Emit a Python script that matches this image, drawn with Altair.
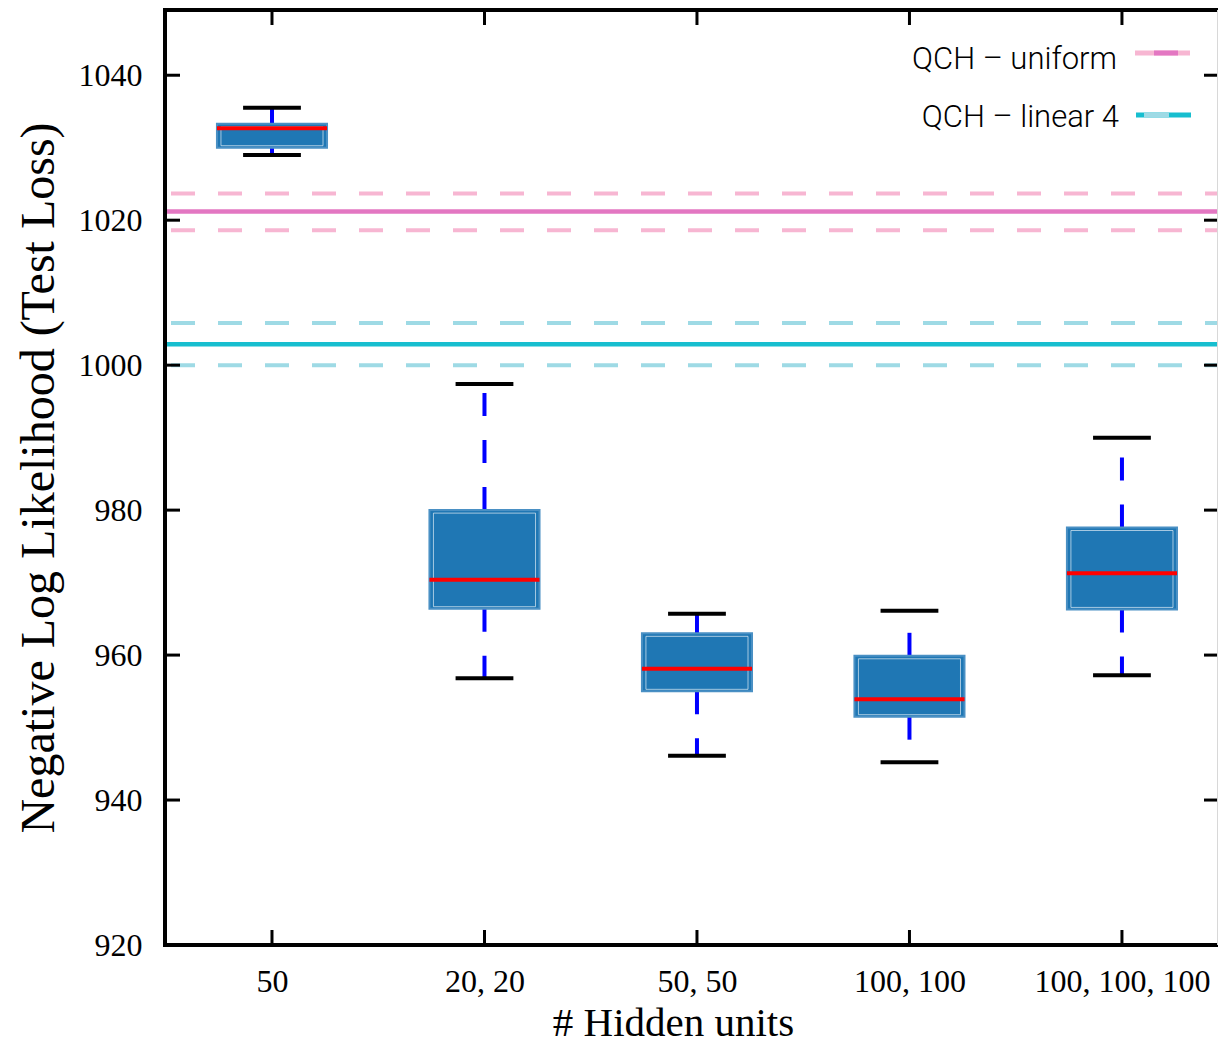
import json
import altair as alt
import pandas as pd

# ---------------- data ----------------
categories = ["50", "20, 20", "50, 50", "100, 100", "100, 100, 100"]
whisker_low = [1029.0, 956.8, 946.1, 945.2, 957.2]
q1 = [1030.0, 966.4, 955.0, 951.5, 966.3]
median = [1032.7, 970.4, 958.1, 953.9, 971.3]
q3 = [1033.3, 980.0, 963.0, 959.9, 977.6]
whisker_high = [1035.5, 997.4, 965.7, 966.1, 990.0]

ref_labels = ["QCH – uniform", "QCH – linear 4"]
ref_mean = [1021.2, 1002.9]
ref_upper = [1023.7, 1005.8]
ref_lower = [1018.6, 1000.0]
ref_solid_colors = ["#e377c2", "#17becf"]
ref_light_colors = ["#f7b6d2", "#9edae5"]

y_ticks = [920, 940, 960, 980, 1000, 1020, 1040]

# ---------------- layout ----------------
W, H = 1053, 935
BOX_HALF = 0.259
CAP_HALF = 0.136
SERIF = "Liberation Serif"

n = len(categories)
box_df = pd.DataFrame({
    "idx": list(range(n)), "cat": categories, "lo": whisker_low, "q1": q1,
    "med": median, "q3": q3, "hi": whisker_high,
})
ref_df = pd.DataFrame({"series": ref_labels, "mean": ref_mean,
                       "upper": ref_upper, "lower": ref_lower})
ytick_df = pd.DataFrame({"v": y_ticks})
xtick_df = pd.DataFrame({"idx": list(range(n))})
one_df = pd.DataFrame({"k": [0]})

xscale = alt.Scale(domain=[-0.5035, 4.452], nice=False, zero=False)
yscale = alt.Scale(domain=[920, 1049], nice=False, zero=False)

label_expr = f"{json.dumps(categories)}[round(datum.value)]"

xaxis = alt.Axis(
    values=list(range(n)), labelExpr=label_expr, grid=False, domain=False,
    ticks=False, tickSize=0, labelPadding=46, labelBaseline="alphabetic",
    labelFont=SERIF, labelFontSize=32, labelColor="black",
    labelFlush=False, labelOverlap=False,
    title="# Hidden units", titleX=508, titleY=90, titleBaseline="alphabetic",
    titleAlign="center", titleFont=SERIF, titleFontSize=41,
    titleFontWeight="normal", titleColor="black",
)
yaxis = alt.Axis(
    values=y_ticks, format="d", grid=False, domain=False, ticks=False,
    tickSize=0, labelPadding=23, labelFont=SERIF, labelFontSize=32,
    labelColor="black", labelBaseline="middle", labelFlush=False,
    labelOverlap=False,
    title="Negative Log Likelihood (Test Loss)", titleX=-112, titleY=H / 2,
    titleAngle=270, titleAlign="center", titleBaseline="alphabetic",
    titleFont=SERIF, titleFontSize=48, titleFontWeight="normal",
    titleColor="black",
)


def X(f):
    return alt.X(f, type="quantitative", scale=xscale, axis=xaxis)


def Y(f):
    return alt.Y(f, type="quantitative", scale=yscale, axis=yaxis)


layers = []

# reference lines
for i, lab in enumerate(ref_labels):
    rc = alt.Chart(ref_df).transform_filter(alt.datum.series == lab)
    for fld in ["upper", "lower"]:
        layers.append(rc.mark_rule(color=ref_light_colors[i], strokeWidth=4,
                                   strokeDash=[24, 23], strokeDashOffset=11)
                      .encode(y=Y(f"{fld}:Q")))
    layers.append(rc.mark_rule(color=ref_solid_colors[i], strokeWidth=4.5)
                  .encode(y=Y("mean:Q")))

base = alt.Chart(box_df).transform_calculate(
    bl=f"datum.idx - {BOX_HALF}", br=f"datum.idx + {BOX_HALF}",
    cl=f"datum.idx - {CAP_HALF}", cr=f"datum.idx + {CAP_HALF}",
)

# whiskers (dashed, starting from the box edges)
layers.append(base.mark_rule(color="#0000ff", strokeWidth=4, strokeDash=[23, 24])
              .encode(x=X("idx:Q"), y=Y("q3:Q"), y2="hi:Q"))
layers.append(base.mark_rule(color="#0000ff", strokeWidth=4, strokeDash=[23, 24])
              .encode(x=X("idx:Q"), y=Y("q1:Q"), y2="lo:Q"))
# caps
layers.append(base.mark_rule(color="black", strokeWidth=4)
              .encode(x=X("cl:Q"), x2="cr:Q", y=Y("hi:Q")))
layers.append(base.mark_rule(color="black", strokeWidth=4)
              .encode(x=X("cl:Q"), x2="cr:Q", y=Y("lo:Q")))
# boxes
layers.append(base.mark_rect(color="#1f77b4", stroke="#4a90c4", strokeWidth=2)
              .encode(x=X("bl:Q"), x2="br:Q", y=Y("q3:Q"), y2="q1:Q"))
layers.append(base.mark_rect(fillOpacity=0, stroke="white", strokeOpacity=0.6,
                             strokeWidth=1, xOffset=4, x2Offset=-4,
                             yOffset=3, y2Offset=-2)
              .encode(x=X("bl:Q"), x2="br:Q", y=Y("q3:Q"), y2="q1:Q"))
# medians
layers.append(base.mark_rule(color="#ff0000", strokeWidth=4)
              .encode(x=X("bl:Q"), x2="br:Q", y=Y("med:Q")))

# inward ticks on all four sides
yt = alt.Chart(ytick_df).mark_rule(color="black", strokeWidth=3)
layers.append(yt.encode(y=Y("v:Q"), x=alt.value(0), x2=alt.value(15)))
layers.append(yt.encode(y=Y("v:Q"), x=alt.value(W - 14), x2=alt.value(W)))
xt = alt.Chart(xtick_df).mark_rule(color="black", strokeWidth=3)
layers.append(xt.encode(x=X("idx:Q"), y=alt.value(H - 15), y2=alt.value(H)))
layers.append(xt.encode(x=X("idx:Q"), y=alt.value(0), y2=alt.value(15)))

# frame: left, top, bottom spines (right spine falls off the page edge)
sp = alt.Chart(one_df).mark_rule(color="black", strokeWidth=4)
layers.append(sp.encode(x=alt.value(0), y=alt.value(-2), y2=alt.value(H + 2)))
layers.append(sp.encode(x=alt.value(0), x2=alt.value(W), y=alt.value(0)))
layers.append(sp.encode(x=alt.value(0), x2=alt.value(W), y=alt.value(H)))
layers.append(alt.Chart(one_df).mark_rule(color="#d8d8d8", strokeWidth=1)
              .encode(x=alt.value(W - 0.5), y=alt.value(0), y2=alt.value(H)))

# legend
leg_pos = [  # (text x, text baseline y, line y, line x0, x1, mid x0, x1)
    (952, 59, 43, 970, 1025, 989, 1013),
    (954, 117, 105, 971, 1026, 979, 1004),
]
leg_outer = [ref_light_colors[0], ref_solid_colors[1]]
leg_inner = [ref_solid_colors[0], ref_light_colors[1]]
for i, lab in enumerate(ref_labels):
    tx, ty, ly, x0, x1, m0, m1 = leg_pos[i]
    lc = alt.Chart(ref_df).transform_filter(alt.datum.series == lab)
    layers.append(lc.mark_text(align="right", baseline="alphabetic", font="Roboto",
                               fontWeight=300, fontSize=31, color="black")
                  .encode(text="series:N", x=alt.value(tx), y=alt.value(ty)))
    layers.append(lc.mark_rule(color=leg_outer[i], strokeWidth=5)
                  .encode(x=alt.value(x0), x2=alt.value(x1), y=alt.value(ly)))
    layers.append(lc.mark_rule(color=leg_inner[i], strokeWidth=5)
                  .encode(x=alt.value(m0), x2=alt.value(m1), y=alt.value(ly)))

chart = alt.layer(*layers).properties(
    width=W, height=H,
    padding={"left": 157, "top": 2, "right": 0, "bottom": 100},
    autosize=alt.AutoSizeParams(type="none"),
    background="white",
).configure_view(stroke=None)

chart.save("out.html", embed_options={"renderer": "svg", "actions": False})
